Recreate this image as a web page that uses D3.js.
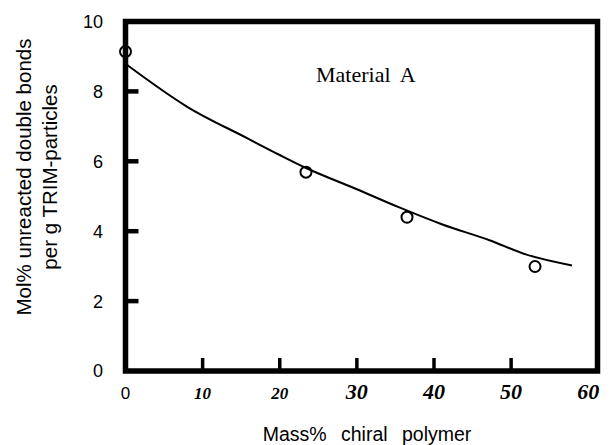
<!DOCTYPE html>
<html>
<head>
<meta charset="utf-8">
<script src="https://cdn.jsdelivr.net/npm/d3@7"></script>
<style>
  body { margin: 0; background: #fff; }
  svg { display: block; }
  .tickLabel { font-family: Arial, "Liberation Sans", sans-serif; fill: #000; }
  .serifLabel { font-family: "Times New Roman", "Liberation Serif", serif; font-weight: bold; font-style: italic; fill: #000; }
  .axisTitle { font-family: Arial, "Liberation Sans", sans-serif; fill: #000; }
</style>
</head>
<body>
<div id="container"></div>
<script>
/* CONSTANTS AND GLOBALS */
const width = 610,
  height = 445

// tick values
const xTicks = [0, 10, 20, 30, 40, 50, 60]
const yTicks = [0, 2, 4, 6, 8, 10]

// measured points (open circles)
const massPct = [0, 23.4, 36.5, 53.1]
const molPct = [9.14, 5.69, 4.40, 2.99]

// fitted curve
const fitMass = [0, 8, 15.7, 20, 23.2, 30, 35.5, 41, 47.2, 52, 57.9]
const fitMol = [8.79, 7.56, 6.67, 6.18, 5.83, 5.2, 4.68, 4.2, 3.74, 3.33, 3.02]

const xMax = 61.2

// + SCALES
const xScale = d3.scaleLinear()
  .domain([0, xMax])
  .range([125.5, 597.5])

const yScale = d3.scaleLinear()
  .domain([0, 10])
  .range([371, 21.5])

// CREATE SVG ELEMENT
const svg = d3.select("#container")
  .append("svg")
  .attr("width", width)
  .attr("height", height)

// FRAME
svg.append("rect")
  .attr("x", xScale(0))
  .attr("y", yScale(10))
  .attr("width", xScale(xMax) - xScale(0))
  .attr("height", yScale(0) - yScale(10))
  .attr("fill", "none")
  .attr("stroke", "#000")
  .attr("stroke-width", 5.5)

// Y TICKS (inside)
svg.selectAll(".yTick")
  .data(yTicks.filter(d => d > 0 && d < 10))
  .join("line")
  .attr("class", "yTick")
  .attr("x1", xScale(0))
  .attr("x2", xScale(0) + 13)
  .attr("y1", d => yScale(d))
  .attr("y2", d => yScale(d))
  .attr("stroke", "#000")
  .attr("stroke-width", 4.5)

svg.selectAll(".yLabel")
  .data(yTicks)
  .join("text")
  .attr("class", "tickLabel yLabel")
  .attr("x", 103)
  .attr("y", d => yScale(d))
  .attr("dy", "0.36em")
  .attr("text-anchor", "end")
  .style("font-size", "18px")
  .text(d => d)

// X TICKS (inside)
svg.selectAll(".xTick")
  .data(xTicks.filter(d => d > 0 && d < 60))
  .join("line")
  .attr("class", "xTick")
  .attr("x1", d => xScale(d))
  .attr("x2", d => xScale(d))
  .attr("y1", yScale(0))
  .attr("y2", yScale(0) - 13)
  .attr("stroke", "#000")
  .attr("stroke-width", 3.5)

svg.selectAll(".xLabel")
  .data(xTicks)
  .join("text")
  .attr("class", d => d === 0 ? "tickLabel xLabel" : "serifLabel xLabel")
  .attr("x", d => xScale(d))
  .attr("y", 399)
  .attr("text-anchor", "middle")
  .style("font-size", d => d === 0 ? "17px" : (d < 30 ? "17px" : "22px"))
  .text(d => d)

// AXIS TITLES
svg.append("text")
  .attr("class", "axisTitle")
  .attr("x", 367)
  .attr("y", 441)
  .attr("text-anchor", "middle")
  .style("font-size", "19.5px")
  .style("word-spacing", "9px")
  .text("Mass% chiral polymer")

const yTitle = svg.append("text")
  .attr("class", "axisTitle")
  .attr("transform", `translate(${0}, ${177}) rotate(-90)`)
  .attr("text-anchor", "middle")
  .style("font-size", "20.5px")

yTitle.append("tspan")
  .attr("x", 0)
  .attr("y", 31)
  .text("Mol% unreacted double bonds")

yTitle.append("tspan")
  .attr("x", 0)
  .attr("y", 57)
  .text("per g TRIM-particles")

// ANNOTATION
svg.append("text")
  .attr("x", 316)
  .attr("y", 82)
  .style("font-family", '"Times New Roman", "Liberation Serif", serif')
  .style("font-size", "22px")
  .style("word-spacing", "5px")
  .text("Material A")

// LINE GENERATOR FUNCTION
const fitData = fitMass.map((m, i) => ({ x: m, y: fitMol[i] }))

const lineGen = d3.line()
  .x(d => xScale(d.x))
  .y(d => yScale(d.y))
  .curve(d3.curveMonotoneX)

// DRAW LINE
svg.selectAll(".line")
  .data([fitData])
  .join("path")
  .attr("class", "line")
  .attr("d", d => lineGen(d))
  .attr("fill", "none")
  .attr("stroke", "#000")
  .attr("stroke-width", 2)

// DRAW POINTS
const points = massPct.map((m, i) => ({ x: m, y: molPct[i] }))

svg.selectAll(".dot")
  .data(points)
  .join("circle")
  .attr("class", "dot")
  .attr("cx", d => xScale(d.x))
  .attr("cy", d => yScale(d.y))
  .attr("r", 5.5)
  .attr("fill", "none")
  .attr("stroke", "#000")
  .attr("stroke-width", 2)
</script>
</body>
</html>
